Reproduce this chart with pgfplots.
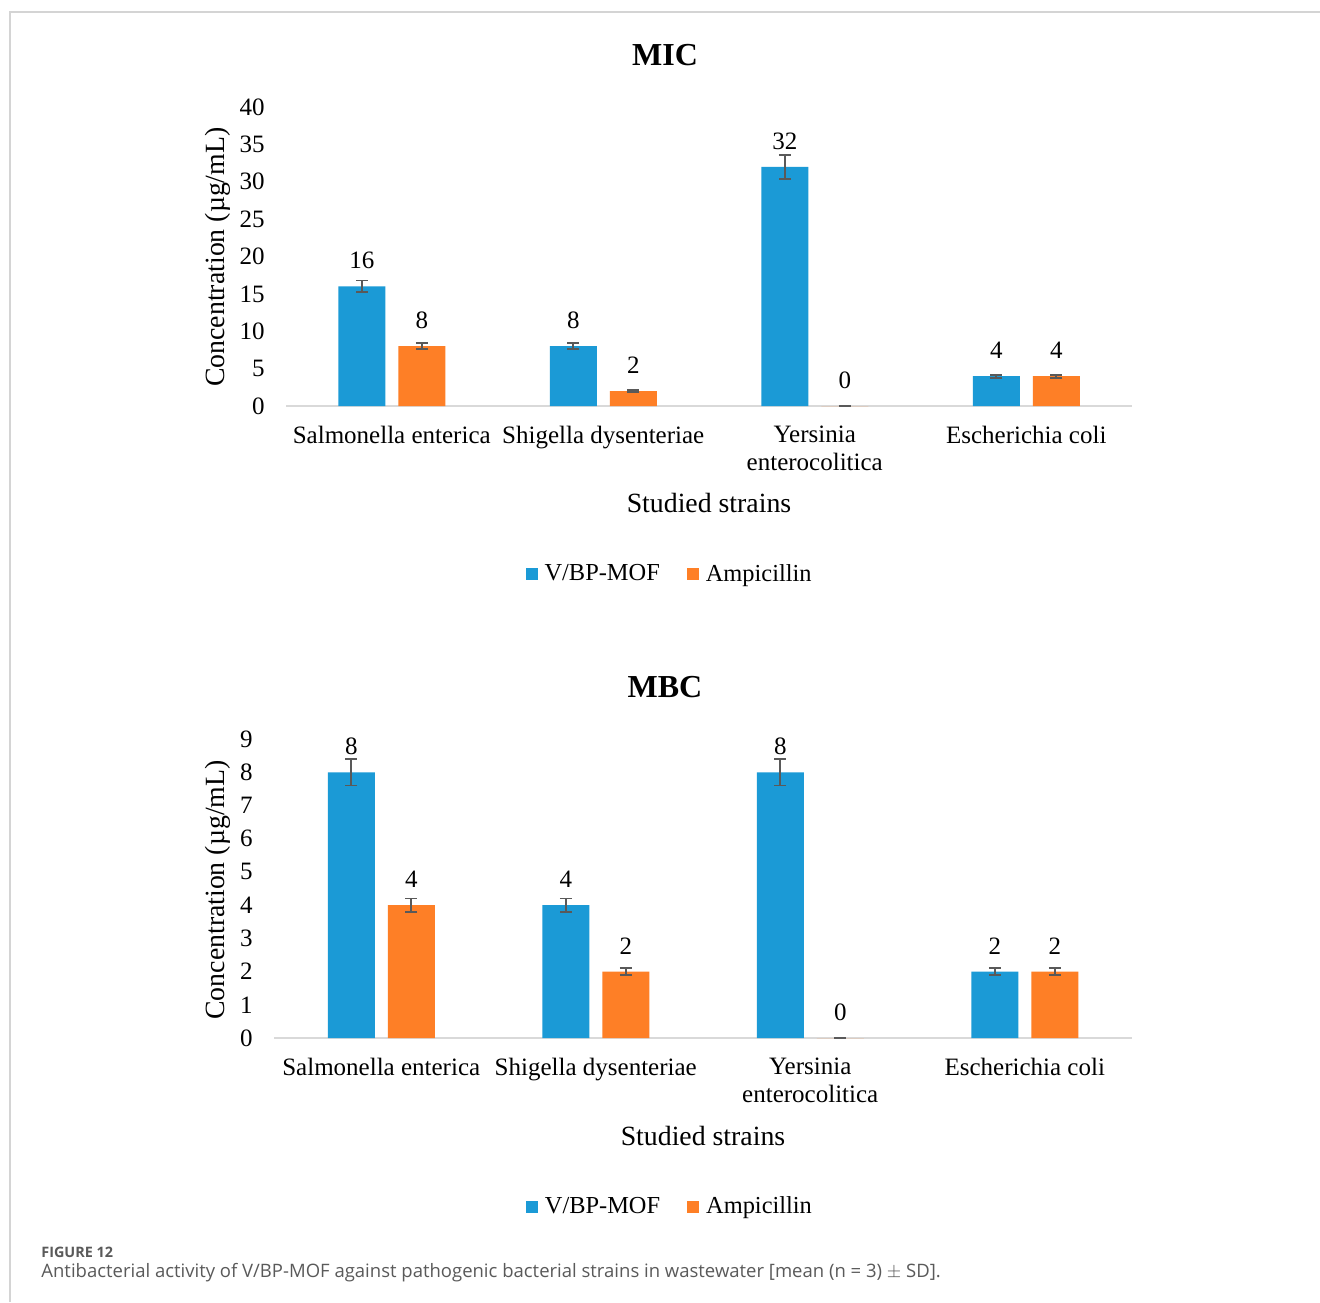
\documentclass[border=0pt]{standalone}
\usepackage{pgfplots}
\pgfplotsset{compat=1.18}
\usepackage{pgfplotstable}
\usepackage{fontspec}
\setmainfont{Liberation Serif}
\newfontfamily\capfont{Open Sans}

\definecolor{mofblue}{HTML}{1B9AD6}
\definecolor{ampor}{HTML}{FE7F26}
\definecolor{errgray}{HTML}{595959}
\definecolor{baseline}{HTML}{D9D9D9}
\definecolor{framegray}{HTML}{D4D4D4}
\definecolor{captext}{HTML}{5A5A5A}

% MIC values (mean, SD)
\pgfplotstableread{
x  y   err
0  16  0.8
1  8   0.4
2  32  1.6
3  4   0.2
}\micmof
\pgfplotstableread{
x  y   err
0  8   0.4
1  2   0.1
2  0   0
3  4   0.2
}\micamp
% MBC values (mean, SD)
\pgfplotstableread{
x  y   err
0  8   0.4
1  4   0.2
2  8   0.4
3  2   0.1
}\mbcmof
\pgfplotstableread{
x  y   err
0  4   0.2
1  2   0.1
2  0   0
3  2   0.1
}\mbcamp

\pgfplotsset{
  /pgf/number format/assume math mode=true,
  strainbars/.style={
    scale only axis,
    ybar=6.5pt,
    bar width=23.5pt,
    xmin=-0.5, xmax=3.5,
    xtick={0,1,2,3},
    xticklabels={Salmonella enterica,Shigella dysenteriae,Yersinia\\enterocolitica,Escherichia coli},
    ymin=0,
    enlarge y limits=false,
    axis lines*=left,
    y axis line style={draw=none},
    x axis line style={draw=baseline, line width=1pt},
    major tick length=0pt,
    tick label style={font=\fontsize{12.5}{14}\selectfont},
    yticklabel style={anchor=east, inner sep=0pt, xshift=-10.5pt},
    xticklabel style={anchor=north, inner sep=0pt, yshift=-10pt, align=center},
    label style={font=\fontsize{13.9}{16}\selectfont},
    xlabel={Studied strains},
    ylabel={Concentration (\textmu g/mL)},
    nodes near coords,
    every node near coord/.append style={font=\fontsize{12.5}{14}\selectfont, anchor=south, inner sep=0pt, yshift=8.5pt, text=black},
    legend columns=2,
    % square key with a little room before its text
    legend image code/.code={\fill[##1] (0pt,-3pt) rectangle (6pt,3pt); \path (8pt,0pt);},
    legend style={draw=none, fill=none, anchor=center,
      font=\fontsize{12.2}{14}\selectfont,
      nodes={inner sep=1.5pt},
      /tikz/every even column/.append style={column sep=12pt}},
    errstyle/.style={
      error bars/.cd, y dir=both, y explicit,
      error bar style={color=errgray, line width=0.9pt},
      error mark options={color=errgray, line width=0.9pt, rotate=90, mark size=3pt}},
  },
}

\begin{document}
\begin{tikzpicture}
\useasboundingbox (0pt,0pt) rectangle (660pt,-651pt);
\fill[white] (0pt,0pt) rectangle (660pt,-651pt);
\draw[framegray, line width=0.8pt] (5pt,-651pt) -- (5pt,-6pt) -- (660pt,-6pt);

% ---------- MIC ----------
\node[font=\bfseries\fontsize{16}{18}\selectfont] at (332.5pt,-27.5pt) {MIC};
\begin{axis}[strainbars,
  at={(143pt,-203pt)}, anchor=south west,
  width=423pt, height=149.5pt,
  ymax=40, ytick distance=5,
  xlabel style={at={(axis description cs:0.5,-0.325)}, anchor=center},
  ylabel style={at={(axis description cs:-0.0804,0.498)}, anchor=center, rotate=0},
  legend style={at={(axis description cs:0.454,-0.562)}},
]
\addplot[fill=mofblue, draw=none, errstyle] table[x=x, y=y, y error=err] {\micmof};
\addplot[fill=ampor, draw=none, errstyle] table[x=x, y=y, y error=err] {\micamp};
\legend{V/BP-MOF, Ampicillin}
\end{axis}

% ---------- MBC ----------
\node[font=\bfseries\fontsize{16}{18}\selectfont] at (332.5pt,-343.5pt) {MBC};
\begin{axis}[strainbars,
  at={(137pt,-519pt)}, anchor=south west,
  width=429pt, height=149.5pt,
  ymax=9, ytick distance=1,
  xlabel style={at={(axis description cs:0.5,-0.328)}, anchor=center},
  ylabel style={at={(axis description cs:-0.0653,0.495)}, anchor=center, rotate=0},
  legend style={at={(axis description cs:0.462,-0.565)}},
]
\addplot[fill=mofblue, draw=none, errstyle] table[x=x, y=y, y error=err] {\mbcmof};
\addplot[fill=ampor, draw=none, errstyle] table[x=x, y=y, y error=err] {\mbcamp};
\legend{V/BP-MOF, Ampicillin}
\end{axis}

% ---------- caption ----------
\node[anchor=west, inner sep=0pt, text=captext, font=\capfont\fontsize{7.2}{9}\selectfont\bfseries] at (20.5pt,-626pt) {FIGURE 12};
\node[anchor=west, inner sep=0pt, text=captext, font=\capfont\fontsize{9.25}{11}\selectfont] at (20.5pt,-636.5pt) {Antibacterial activity of V/BP-MOF against pathogenic bacterial strains in wastewater [mean (n = 3) $\pm$ SD].};
\end{tikzpicture}
\end{document}
